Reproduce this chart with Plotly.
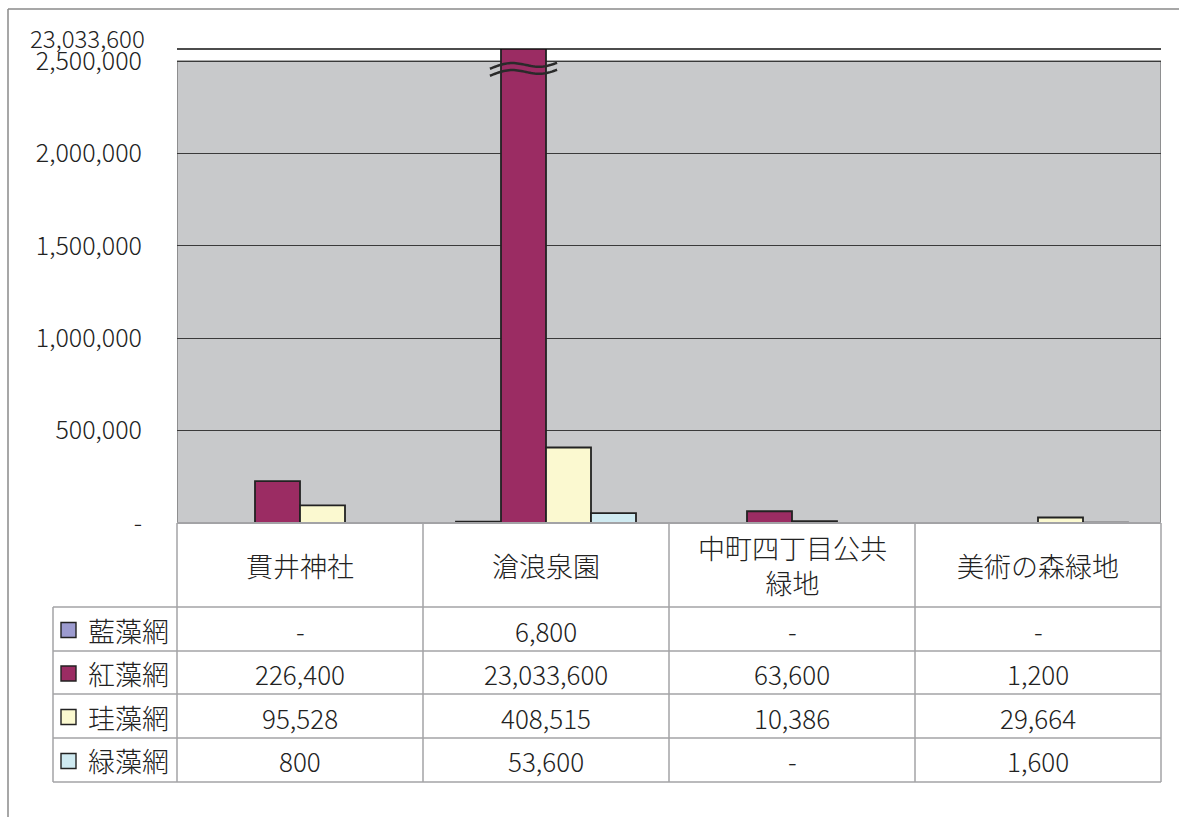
import numpy as np
import plotly.graph_objects as go

# ---- data -------------------------------------------------------------
categories = ["貫井神社", "滄浪泉園", "中町四丁目公共<br>緑地", "美術の森緑地"]
series_names = ["藍藻網", "紅藻網", "珪藻網", "緑藻網"]
blue_green = [None, 6800, None, None]          # 藍藻網
red_algae = [226400, 23033600, 63600, 1200]    # 紅藻網
diatoms = [95528, 408515, 10386, 29664]        # 珪藻網
green_algae = [800, 53600, None, 1600]         # 緑藻網
series_values = [blue_green, red_algae, diatoms, green_algae]
y_ticks = [0, 500000, 1000000, 1500000, 2000000, 2500000]

# ---- style ------------------------------------------------------------
colors = ["#9c9bcf", "#9b2c63", "#fbf9d0", "#cfeaf1"]
FONT = "Noto Sans CJK JP"
WEIGHT = 300
TXT = "#222222"
W, H = 1179, 817
L, R, T, B = 177, 1161, 49, 523          # plot area in pixels
AXIS_TOP = 2565000                       # value at the top edge of plot area
PLOT_H = B - T
BARGAP = 66 / 246


def px(x):
    return (x - L) / (R - L)


def py(y):
    return (B - y) / PLOT_H


def fmt(v):
    return "-" if v is None else f"{v:,}"


def font(size):
    return dict(family=FONT, size=size, color=TXT, weight=WEIGHT)


fig = go.Figure()
x_idx = list(range(len(categories)))
for name, vals, col in zip(series_names, series_values, colors):
    fig.add_trace(go.Bar(
        x=x_idx, y=[0 if v is None else v for v in vals], name=name,
        marker=dict(color=col, line=dict(color="#222222", width=1.8)),
        showlegend=False, cliponaxis=True,
    ))

shapes = []
# gray plot region up to the last regular tick
shapes.append(dict(type="rect", xref="x", yref="y", x0=-0.5, x1=3.5,
                   y0=0, y1=y_ticks[-1], fillcolor="#c8c9cb",
                   line=dict(color="#555555", width=1), layer="below"))
# line at the top of the broken axis
shapes.append(dict(type="line", xref="paper", yref="paper", x0=0, x1=1,
                   y0=1, y1=1, line=dict(color="#111111", width=1.5)))

# break marks across the clipped bar
n_ser = len(series_names)
bar_w = (1 - BARGAP) / n_ser
broken_i = int(np.argmax(red_algae))
bx = broken_i - (1 - BARGAP) / 2 + bar_w * 1.5
half = bar_w / 2 + 0.045
units_per_px = AXIS_TOP / PLOT_H
for yc in (2478000, 2440000):
    t = np.linspace(0, 1, 40)
    xs = bx - half + 2 * half * t
    ys = yc + 3.2 * units_per_px * np.sin(2 * np.pi * t - 0.2) + (t - 0.5) * 6 * units_per_px
    path = "M " + " L ".join(f"{a:.5f},{b:.1f}" for a, b in zip(xs, ys))
    shapes.append(dict(type="path", xref="x", yref="y", path=path,
                       line=dict(color="#2a2a2a", width=2.5)))

# page frame
GRID = "#a3a3a6"
shapes.append(dict(type="line", xref="paper", yref="paper", x0=px(8), x1=px(W),
                   y0=py(9), y1=py(9), line=dict(color="#8a8a8a", width=1.5)))
shapes.append(dict(type="line", xref="paper", yref="paper", x0=px(8), x1=px(8),
                   y0=py(9), y1=py(H + 5), line=dict(color="#8a8a8a", width=1.5)))

# data table grid
col_edges = [177, 423, 669, 915, 1161]
row_edges = [607, 651, 694, 738, 782]
shapes.append(dict(type="line", xref="paper", yref="paper", x0=px(L), x1=px(R),
                   y0=py(B), y1=py(B), line=dict(color=GRID, width=2)))
for xe in col_edges:
    shapes.append(dict(type="line", xref="paper", yref="paper", x0=px(xe), x1=px(xe),
                       y0=py(B), y1=py(row_edges[-1]), line=dict(color=GRID, width=1.5)))
shapes.append(dict(type="line", xref="paper", yref="paper", x0=px(53), x1=px(53),
                   y0=py(row_edges[0]), y1=py(row_edges[-1]), line=dict(color=GRID, width=1.5)))
for ye in row_edges:
    shapes.append(dict(type="line", xref="paper", yref="paper", x0=px(53), x1=px(R),
                       y0=py(ye), y1=py(ye), line=dict(color=GRID, width=1.5)))

annotations = []
# label for the broken bar's value above the axis
annotations.append(dict(xref="paper", yref="paper", x=px(147), y=1, yshift=12,
                        xanchor="right", yanchor="middle", showarrow=False,
                        text=fmt(max(red_algae)), font=font(24)))
# category header row
col_centers = [(a + b) / 2 for a, b in zip(col_edges[:-1], col_edges[1:])]
for cx, cat in zip(col_centers, categories):
    annotations.append(dict(xref="paper", yref="paper", x=px(cx), y=py(565),
                            xanchor="center", yanchor="middle", showarrow=False,
                            text=cat, font=font(27)))
# series rows
for r, (name, vals, col) in enumerate(zip(series_names, series_values, colors)):
    ryc = (row_edges[r] + row_edges[r + 1]) / 2
    shapes.append(dict(type="rect", xref="paper", yref="paper",
                       x0=px(61), x1=px(76), y0=py(ryc - 6.5), y1=py(ryc + 8.5),
                       fillcolor=col, line=dict(color="#222222", width=1.4)))
    annotations.append(dict(xref="paper", yref="paper", x=px(86), y=py(ryc + 1),
                            xanchor="left", yanchor="middle", showarrow=False,
                            text=name, font=font(27)))
    for cx, v in zip(col_centers, vals):
        annotations.append(dict(xref="paper", yref="paper", x=px(cx), y=py(ryc + 1),
                                xanchor="center", yanchor="middle", showarrow=False,
                                text=fmt(v), font=font(26)))

fig.update_layout(
    width=W, height=H,
    margin=dict(l=L, r=W - R, t=T, b=H - B, pad=0),
    paper_bgcolor="white", plot_bgcolor="white",
    barmode="group", bargap=BARGAP, bargroupgap=0,
    shapes=shapes, annotations=annotations,
    xaxis=dict(range=[-0.5, 3.5], showticklabels=False, showgrid=False,
               zeroline=False, showline=False, fixedrange=True),
    yaxis=dict(range=[0, AXIS_TOP], tickvals=y_ticks,
               ticktext=["-" if v == 0 else f"{v:,}" for v in y_ticks],
               ticks="outside", ticklen=29, tickcolor="rgba(0,0,0,0)",
               tickfont=font(25),
               showgrid=True, gridcolor="#3a3a3a", gridwidth=1,
               zeroline=False, showline=False, fixedrange=True),
    font=dict(family=FONT, color=TXT),
)

fig.write_html("out.html")
